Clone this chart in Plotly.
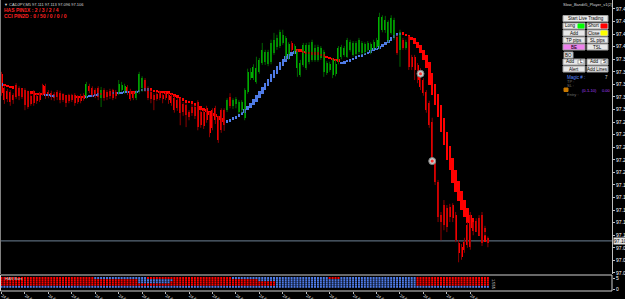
import plotly.graph_objects as go

# ---------------- data ----------------
symbol = "CADJPY,M5"

opens = [97.372, 97.349, 97.345, 97.343, 97.338, 97.354, 97.349, 97.346, 97.346, 97.341, 97.337, 97.343, 97.337, 97.340, 97.354, 97.352, 97.343, 97.341, 97.340, 97.343, 97.341,
         97.338,
         97.335, 97.337, 97.337, 97.338, 97.335, 97.337, 97.338, 97.335, 97.352, 97.349, 97.346, 97.349, 97.333, 97.346, 97.343, 97.345, 97.346, 97.343, 97.341, 97.346, 97.343, 97.351, 97.345, 97.340, 97.333, 97.343, 97.349, 97.362, 97.349, 97.343, 97.338, 97.340, 97.341, 97.338, 97.340, 97.338, 97.337, 97.333, 97.330, 97.330, 97.324, 97.322,
         97.311,
         97.319, 97.319, 97.327, 97.311, 97.311, 97.317, 97.306, 97.314, 97.317, 97.302, 97.314, 97.314, 97.314, 97.335, 97.321, 97.324, 97.311, 97.314, 97.302, 97.343, 97.365, 97.365, 97.359, 97.375, 97.389, 97.391, 97.387, 97.391, 97.405, 97.415, 97.416, 97.421, 97.399, 97.399, 97.421, 97.407, 97.381, 97.370, 97.386, 97.381, 97.391, 97.394,
         97.394,
         97.394, 97.397, 97.375, 97.373, 97.378, 97.370, 97.372, 97.391, 97.399, 97.402, 97.399, 97.410, 97.402, 97.403, 97.407, 97.405, 97.407, 97.410, 97.407, 97.413, 97.415, 97.415, 97.442, 97.442, 97.426, 97.437, 97.429, 97.430, 97.410, 97.426, 97.413, 97.429, 97.399, 97.399, 97.386, 97.375, 97.362, 97.343, 97.325, 97.295, 97.230, 97.200, 97.147, 97.163, 97.158, 97.160, 97.163, 97.147, 97.103, 97.096, 97.104, 97.131, 97.147,
         97.131,
         97.136, 97.142, 97.147, 97.127, 97.111]

highs = [97.375, 97.352, 97.348, 97.346, 97.341, 97.357, 97.352, 97.349, 97.349, 97.345, 97.340, 97.346, 97.340, 97.343, 97.356, 97.356, 97.346, 97.345, 97.343, 97.346, 97.345,
         97.341,
         97.338, 97.340, 97.340, 97.341, 97.338, 97.340, 97.341, 97.359, 97.356, 97.352, 97.349, 97.352, 97.351, 97.349, 97.346, 97.348, 97.348, 97.346, 97.362, 97.359, 97.356, 97.354, 97.348, 97.343, 97.346, 97.375, 97.368, 97.365, 97.352, 97.346, 97.341, 97.343, 97.345, 97.341, 97.343, 97.341, 97.340, 97.337, 97.333, 97.333, 97.327, 97.325,
         97.314,
         97.324, 97.322, 97.330, 97.314, 97.314, 97.321, 97.311, 97.317, 97.321, 97.305, 97.317, 97.317, 97.333, 97.341, 97.333, 97.335, 97.330, 97.330, 97.349, 97.380, 97.381, 97.387, 97.399, 97.397, 97.421, 97.410, 97.410, 97.426, 97.437, 97.434, 97.442, 97.442, 97.432, 97.422, 97.424, 97.419, 97.410, 97.394, 97.421, 97.421, 97.422, 97.426,
         97.418,
         97.418, 97.416, 97.410, 97.392, 97.391, 97.397, 97.394, 97.416, 97.418, 97.416, 97.429, 97.426, 97.424, 97.424, 97.429, 97.424, 97.422, 97.424, 97.422, 97.426, 97.429, 97.469, 97.465, 97.464, 97.457, 97.465, 97.461, 97.434, 97.442, 97.429, 97.426, 97.432, 97.402, 97.402, 97.389, 97.381, 97.365, 97.346, 97.329, 97.302, 97.235, 97.203, 97.152, 97.171, 97.163, 97.165, 97.166, 97.152, 97.107, 97.101, 97.111, 97.136, 97.152,
         97.136,
         97.142, 97.147, 97.152, 97.130, 97.113]

lows = [97.337, 97.324, 97.327, 97.321, 97.324, 97.332, 97.330, 97.332, 97.314, 97.316, 97.321, 97.321, 97.324, 97.327, 97.337, 97.332, 97.333, 97.330, 97.329, 97.330, 97.325,
        97.327,
        97.319, 97.325, 97.327, 97.321, 97.324, 97.325, 97.329, 97.332, 97.341, 97.335, 97.333, 97.330, 97.319, 97.329, 97.330, 97.332, 97.330, 97.332, 97.338, 97.343, 97.340, 97.338, 97.329, 97.330, 97.330, 97.340, 97.343, 97.343, 97.330, 97.325, 97.314, 97.329, 97.330, 97.325, 97.330, 97.324, 97.321, 97.310, 97.313, 97.290, 97.305, 97.287,
        97.298,
        97.305, 97.300, 97.282, 97.286, 97.284, 97.294, 97.271, 97.282, 97.292, 97.262, 97.278, 97.281, 97.311, 97.317, 97.316, 97.317, 97.308, 97.310, 97.298, 97.340, 97.362, 97.362, 97.356, 97.372, 97.386, 97.386, 97.384, 97.387, 97.402, 97.410, 97.413, 97.418, 97.395, 97.394, 97.407, 97.403, 97.367, 97.367, 97.383, 97.378, 97.387, 97.391,
        97.391,
        97.391, 97.394, 97.367, 97.370, 97.375, 97.365, 97.368, 97.387, 97.395, 97.399, 97.397, 97.407, 97.399, 97.400, 97.403, 97.402, 97.403, 97.407, 97.403, 97.410, 97.411, 97.411, 97.438, 97.437, 97.422, 97.434, 97.426, 97.402, 97.383, 97.410, 97.410, 97.378, 97.378, 97.362, 97.357, 97.346, 97.337, 97.310, 97.286, 97.230, 97.195, 97.136, 97.107, 97.123, 97.120, 97.136, 97.136, 97.104, 97.072, 97.076, 97.087, 97.095, 97.092,
        97.115,
        97.120, 97.114, 97.098, 97.114, 97.096]

closes = [97.341, 97.330, 97.332, 97.327, 97.330, 97.335, 97.337, 97.335, 97.322, 97.319, 97.324, 97.325, 97.329, 97.330, 97.341, 97.338, 97.337, 97.335, 97.333, 97.335, 97.330,
          97.330,
          97.325, 97.329, 97.330, 97.325, 97.327, 97.329, 97.332, 97.356, 97.345, 97.338, 97.337, 97.335, 97.346, 97.333, 97.335, 97.337, 97.333, 97.337, 97.356, 97.354, 97.352, 97.341, 97.332, 97.333, 97.343, 97.372, 97.365, 97.346, 97.333, 97.332, 97.330, 97.332, 97.333, 97.332, 97.333, 97.330, 97.325, 97.314, 97.317, 97.310, 97.311, 97.306,
          97.303,
          97.310, 97.305, 97.287, 97.290, 97.289, 97.298, 97.278, 97.286, 97.298, 97.267, 97.282, 97.290, 97.330, 97.321, 97.330, 97.332, 97.327, 97.327, 97.346, 97.375, 97.375, 97.383, 97.381, 97.394, 97.410, 97.407, 97.407, 97.421, 97.426, 97.429, 97.438, 97.434, 97.429, 97.419, 97.410, 97.416, 97.407, 97.389, 97.418, 97.418, 97.418, 97.422,
          97.413,
          97.415, 97.413, 97.407, 97.389, 97.387, 97.394, 97.387, 97.413, 97.415, 97.413, 97.426, 97.422, 97.421, 97.421, 97.426, 97.421, 97.419, 97.421, 97.419, 97.422, 97.426, 97.462, 97.462, 97.457, 97.454, 97.461, 97.457, 97.405, 97.438, 97.413, 97.422, 97.383, 97.383, 97.378, 97.362, 97.351, 97.341, 97.314, 97.290, 97.235, 97.200, 97.144, 97.136, 97.131, 97.128, 97.144, 97.142, 97.107, 97.087, 97.080, 97.092, 97.099, 97.096,
          97.122,
          97.127, 97.119, 97.103, 97.120, 97.106]

# Heiken Ashi Smoothed overlay (open / close)
ha_open = [97.352, 97.356, 97.354, 97.352, 97.351, 97.351, 97.349, 97.348, 97.346, 97.345, 97.343, 97.343, 97.341, 97.341, 97.341, 97.337, 97.337, 97.335, 97.335, 97.340, 97.340,
           97.339,
           97.338, 97.338, 97.338, 97.337, 97.337, 97.337, 97.337, 97.333, 97.335, 97.335, 97.337, 97.338, 97.341, 97.341, 97.341, 97.341, 97.340, 97.341, 97.340, 97.340, 97.341, 97.341, 97.343, 97.343, 97.341, 97.343, 97.345, 97.346, 97.346, 97.348, 97.346, 97.346, 97.345, 97.345, 97.343, 97.343, 97.341, 97.340, 97.338, 97.335, 97.333, 97.330,
           97.329,
           97.329, 97.325, 97.324, 97.321, 97.317, 97.316, 97.313, 97.310, 97.308, 97.305, 97.302, 97.298, 97.294, 97.295, 97.298, 97.300, 97.303, 97.306, 97.310, 97.314, 97.317, 97.322, 97.327, 97.333, 97.340, 97.346, 97.352, 97.359, 97.365, 97.372, 97.378, 97.384, 97.391, 97.395, 97.400, 97.403, 97.410, 97.410, 97.408, 97.407, 97.407, 97.405,
           97.405,
           97.405, 97.403, 97.402, 97.400, 97.399, 97.397, 97.395, 97.394, 97.387, 97.389, 97.391, 97.392, 97.394, 97.395, 97.399, 97.400, 97.402, 97.403, 97.405, 97.408, 97.410, 97.411, 97.415, 97.418, 97.421, 97.424, 97.429, 97.432, 97.434, 97.437, 97.435, 97.434, 97.430, 97.429, 97.422, 97.418, 97.410, 97.402, 97.391, 97.373, 97.356, 97.340, 97.322, 97.302, 97.279, 97.257, 97.238, 97.219, 97.201, 97.185, 97.171, 97.158, 97.147,
           97.142,
           97.138, 97.130, 97.122, 97.115, 97.111]

ha_close = [97.357, 97.352, 97.351, 97.349, 97.348, 97.348, 97.346, 97.345, 97.343, 97.341, 97.340, 97.340, 97.338, 97.338, 97.338, 97.340, 97.340, 97.338, 97.338, 97.337, 97.337,
            97.336,
            97.335, 97.335, 97.335, 97.333, 97.333, 97.333, 97.333, 97.337, 97.338, 97.338, 97.340, 97.341, 97.338, 97.338, 97.338, 97.338, 97.343, 97.338, 97.343, 97.343, 97.345, 97.345, 97.340, 97.340, 97.345, 97.346, 97.348, 97.349, 97.349, 97.345, 97.343, 97.343, 97.341, 97.341, 97.340, 97.340, 97.338, 97.335, 97.333, 97.330, 97.329, 97.325,
            97.325,
            97.324, 97.321, 97.317, 97.314, 97.313, 97.311, 97.306, 97.305, 97.303, 97.298, 97.295, 97.294, 97.298, 97.300, 97.303, 97.305, 97.308, 97.311, 97.316, 97.321, 97.325, 97.332, 97.338, 97.345, 97.351, 97.357, 97.364, 97.372, 97.378, 97.384, 97.391, 97.395, 97.400, 97.403, 97.407, 97.408, 97.407, 97.407, 97.405, 97.403, 97.403, 97.402,
            97.402,
            97.402, 97.400, 97.399, 97.397, 97.395, 97.394, 97.392, 97.391, 97.391, 97.392, 97.394, 97.395, 97.397, 97.400, 97.402, 97.403, 97.405, 97.407, 97.410, 97.413, 97.413, 97.416, 97.419, 97.422, 97.426, 97.430, 97.434, 97.437, 97.437, 97.434, 97.432, 97.429, 97.426, 97.419, 97.413, 97.405, 97.394, 97.381, 97.354, 97.338, 97.322, 97.303, 97.279, 97.259, 97.235, 97.219, 97.198, 97.184, 97.169, 97.155, 97.144, 97.134, 97.127,
            97.124,
            97.120, 97.114, 97.107, 97.104, 97.103]

# time-axis labels (one every 8 bars)
time_tick_bars = [0, 8, 16, 24, 32, 40, 48, 56, 64, 72, 80, 88, 96, 104, 112, 120, 128, 136, 144, 152, 160]
time_tick_labels = ["24 Apr 2019", "24 Apr 06:45", "24 Apr 07:25", "24 Apr 08:05", "24 Apr 08:45",
                    "24 Apr 09:25", "24 Apr 10:05", "24 Apr 10:45", "24 Apr 11:25", "24 Apr 12:05",
                    "24 Apr 12:45", "24 Apr 13:25", "24 Apr 14:05", "24 Apr 14:45", "24 Apr 15:25",
                    "24 Apr 16:05", "24 Apr 16:45", "24 Apr 17:25", "24 Apr 18:05", "24 Apr 18:45",
                    "24 Apr 19:25"]

price_ticks = [97.475, 97.455, 97.435, 97.415, 97.395, 97.375, 97.355, 97.335, 97.315, 97.295, 97.275,
               97.255, 97.235, 97.215, 97.195, 97.175, 97.155, 97.135, 97.115, 97.095, 97.075, 97.055]
price_tick_labels = ["97.475", "97.455", "97.435", "97.415", "97.395", "97.375", "97.355", "97.335",
                     "97.315", "97.295", "97.275", "97.255", "97.235", "97.215", "97.195", "97.175",
                     "97.155", "97.135", "97.115", "97.095", "97.075", "97.055"]

signal_bars = [143, 147]
signal_prices = [97.372, 97.233]

# colour-state strip in the sub-window: runs of (state, number of bars), top row = 5
strip_runs = {
    5: [("dn", 32), ("up", 18), ("dn", 29), ("up", 33), ("dn", 4), ("up", 26), ("dn", 25)],
    4: [("dn", 47), ("up", 12), ("dn", 29), ("up", 54), ("dn", 25)],
    3: [("dn", 47), ("up", 11), ("dn", 36), ("up", 48), ("dn", 25)],
    2: [("dn", 94), ("up", 48), ("dn", 25)],
    1: [("up", 167)],
}
sub_ticks = [0, 5]
sub_tick_labels = ["0", "5"]

# ---------------- figure ----------------
W, H = 625, 299
PLOT_R = 612           # right edge of chart area (px)
MAIN_B = 274           # bottom of main window (px)
SUB_T, SUB_B = 275, 291


def px(x):
    return x / W


def py(y):
    return 1 - y / H


n = len(closes)
bars = list(range(n))
BAR_PX = 2.93
x_lo = -1.5 / BAR_PX
XR = [x_lo, x_lo + PLOT_R / BAR_PX]

BULL, BEAR = "#00b400", "#ff0000"
BULL_W, BEAR_W = "#006400", "#8c0000"
HA_UP, HA_DN = "#4f7be6", "#ff0000"

fig = go.Figure()

# wicks
for is_bull, col in ((True, BULL_W), (False, BEAR_W)):
    xs, ys = [], []
    for i in bars:
        if (closes[i] >= opens[i]) == is_bull:
            xs += [i, i, None]
            ys += [lows[i], highs[i], None]
    fig.add_trace(go.Scatter(x=xs, y=ys, mode="lines", line=dict(color=col, width=1),
                             hoverinfo="skip", xaxis="x", yaxis="y"))

# bodies
for is_bull, col in ((True, BULL), (False, BEAR)):
    idx = [i for i in bars if (closes[i] >= opens[i]) == is_bull]
    fig.add_trace(go.Bar(x=idx, base=[opens[i] for i in idx],
                         y=[closes[i] - opens[i] for i in idx], width=0.68,
                         marker=dict(color=col, line=dict(width=0)), xaxis="x", yaxis="y"))

# Heiken Ashi smoothed bars
for is_up, col in ((True, HA_UP), (False, HA_DN)):
    idx = [i for i in bars if (ha_close[i] >= ha_open[i]) == is_up]
    fig.add_trace(go.Bar(x=idx, base=[ha_open[i] for i in idx],
                         y=[ha_close[i] - ha_open[i] for i in idx], width=0.85,
                         marker=dict(color=col, line=dict(width=0)), xaxis="x", yaxis="y"))

# signal circles
fig.add_trace(go.Scatter(x=signal_bars, y=signal_prices, mode="markers",
                         marker=dict(symbol="circle", size=7, color="#c8c8c8",
                                     line=dict(color="#808080", width=1)), xaxis="x", yaxis="y"))
fig.add_trace(go.Scatter(x=signal_bars, y=signal_prices, mode="markers",
                         marker=dict(symbol="circle", size=3, color="#ff3030"), xaxis="x", yaxis="y"))

# sub-window strip
for state, col in (("up", HA_UP), ("dn", HA_DN)):
    xs, ys = [], []
    for row, runs in strip_runs.items():
        pos = 0
        for st, length in runs:
            for k in range(pos, pos + length):
                if st == state:
                    xs.append(k)
                    ys.append(row)
            pos += length
    fig.add_trace(go.Scatter(x=xs, y=ys, mode="markers",
                             marker=dict(symbol="square", size=2, color=col, line=dict(width=0)),
                             xaxis="x2", yaxis="y2", hoverinfo="skip"))

FONT = "Liberation Sans"
main_dom = [py(MAIN_B), 1]
sub_dom = [py(SUB_B), py(SUB_T)]
# sub-window scale: 0 at y=289px, 5 at y=278px
u = (289 - 278) / 5.0
sub_range = [-(SUB_B - 289) / u, 5 + (278 - SUB_T) / u]

fig.update_layout(
    width=W, height=H, margin=dict(l=0, r=0, t=0, b=0),
    paper_bgcolor="black", plot_bgcolor="black", showlegend=False,
    barmode="overlay", bargap=0,
    font=dict(family=FONT, color="white"),
    xaxis=dict(domain=[0, px(PLOT_R)], range=XR, anchor="y", showgrid=False, zeroline=False,
               showticklabels=False, ticks="", fixedrange=True),
    yaxis=dict(domain=main_dom, range=[97.4893 - 0.0015911 * MAIN_B, 97.4893], side="right",
               anchor="x", showgrid=False, zeroline=False, tickvals=price_ticks,
               ticktext=price_tick_labels, ticks="outside", ticklen=2, tickcolor="#c0c0c0",
               tickfont=dict(size=5, color="white", family=FONT), showline=True,
               linecolor="#c0c0c0", linewidth=1, automargin=False, ticklabelstandoff=0),
    xaxis2=dict(domain=[0, px(PLOT_R)], range=XR, anchor="y2", showgrid=False, zeroline=False,
                tickvals=time_tick_bars, ticktext=time_tick_labels, ticks="outside", ticklen=2,
                tickcolor="#c0c0c0", tickfont=dict(size=4, color="white", family=FONT),
                ticklabelposition="outside right", automargin=False, ticklabelstandoff=0),
    yaxis2=dict(domain=sub_dom, range=sub_range, anchor="x2", side="right", showgrid=False,
                zeroline=False, tickvals=sub_ticks, ticktext=sub_tick_labels, ticks="outside",
                ticklen=2, tickcolor="#c0c0c0", tickfont=dict(size=5, color="white", family=FONT),
                automargin=False, ticklabelstandoff=0),
)

shapes = []
annots = []


def text(x, y, s, size=5, color="white", anchor="left", bold=False, angle=0):
    annots.append(dict(x=px(x), y=py(y), xref="paper", yref="paper", text=("<b>%s</b>" % s) if bold else s,
                       showarrow=False, xanchor=anchor, yanchor="middle", textangle=angle,
                       font=dict(size=size, color=color, family=FONT)))


def rect(x0, y0, x1, y1, fill, line="#a0a0a0"):
    shapes.append(dict(type="rect", xref="paper", yref="paper", x0=px(x0), x1=px(x1),
                       y0=py(y1), y1=py(y0), fillcolor=fill, line=dict(color=line, width=1), layer="above"))


# frame
shapes.append(dict(type="line", xref="paper", yref="paper", x0=px(0.5), x1=px(0.5), y0=py(MAIN_B), y1=1,
                   line=dict(color="#808080", width=1)))
shapes.append(dict(type="rect", xref="paper", yref="paper", x0=px(0.5), x1=px(PLOT_R), y0=py(SUB_B),
                   y1=py(SUB_T), line=dict(color="#d0d0d0", width=1)))
# bid line
shapes.append(dict(type="line", xref="paper", yref="y", x0=0, x1=px(PLOT_R), y0=closes[-1], y1=closes[-1],
                   line=dict(color="#6f8296", width=1), layer="below"))
annots.append(dict(x=px(PLOT_R + 1), y=closes[-1], xref="paper", yref="y", text="%.3f" % closes[-1],
                   showarrow=False, xanchor="left", yanchor="middle", bgcolor="#e0e0e0",
                   borderpad=0, font=dict(size=5, color="black", family=FONT)))

# header texts
text(2, 4.5, "▼ %s %.3f %.3f %.3f %.3f" % (symbol, opens[-1], highs[-1], lows[-1], closes[-1]),
     size=4, color="#d8d8d8")
text(2, 10.5, "HAS PIN1X : 2 / 3 / 2 / 4", size=5, color="#ff2020", bold=True)
text(2, 16, "CCI PIN2D : 0 / 50 / 0 / 0 / 0", size=5, color="#ff2020", bold=True)
text(3, 278.5, "HAS Bars", size=4, color="#d8d8d8")
text(494, 284, "1.555", size=4, color="#d8d8d8", anchor="center", angle=90)

# trading panel
text(588, 5, "Slow_Bandit5_Player_v1(2)", size=4, color="#d8d8d8", anchor="center")
BTN = "#e8e8e8"
rect(563, 15.5, 608, 21.5, BTN)
text(585.5, 18.5, "Start Live Trading", size=4.5, color="black", anchor="center")
for (x0, x1, label, sq) in ((563, 585, "Long", "#00ff00"), (587, 608, "Short", "#ff0000")):
    rect(x0, 23, x1, 29, BTN)
    rect(x1 - 7, 24, x1 - 1, 28, sq, line=sq)
    text((x0 + x1 - 7) / 2, 26, label, size=4.5, color="black", anchor="center")
rect(563, 30, 585, 36, BTN)
text(574, 33, "Add", size=4.5, color="black", anchor="center")
rect(587, 30, 608, 36, BTN)
rect(601, 31, 607, 35, "#ffff00", line="#ffff00")
text(594, 33, "Close", size=4.5, color="black", anchor="center")
rect(563, 37, 585, 43, BTN)
text(574, 40, "TP pips", size=4.5, color="black", anchor="center")
rect(587, 37, 608, 43, BTN)
text(597.5, 40, "SL pips", size=4.5, color="black", anchor="center")
rect(563, 44, 585, 50, "#ee82ee")
text(574, 47, "BE", size=4.5, color="black", anchor="center")
rect(587, 44, 608, 50, BTN)
text(597.5, 47, "TSL", size=4.5, color="black", anchor="center")
rect(564, 52, 573, 58, BTN)
text(568.5, 55, "BO", size=4.5, color="black", anchor="center")
for (x0, x1, side) in ((563, 585, "L"), (587, 608, "S")):
    rect(x0, 59, x1, 65, BTN)
    rect(x1 - 7, 60, x1 - 1, 64, "#ffffff")
    text((x0 + x1 - 7) / 2, 62, "Add", size=4.5, color="black", anchor="center")
    text(x1 - 4, 62, side, size=4.5, color="black", anchor="center")
rect(563, 66, 585, 72, BTN)
text(574, 69, "Alert", size=4.5, color="black", anchor="center")
rect(587, 66, 608, 72, BTN)
text(597.5, 69, "Add Lines", size=4.5, color="black", anchor="center")
text(565, 77, "Magic # :", size=4.5, color="#5a8cff")
text(606, 77, "7", size=4.5, color="#d8d8d8", anchor="center")
text(565, 81, "TP :", size=4, color="#707070")
text(565, 85, "SL :", size=4, color="#707070")
rect(564, 88, 568, 91.5, "#c87800", line="#c87800")
text(580, 90, "(0-1-10)", size=4, color="#b040ff")
text(600, 90, "0.00", size=4, color="#b040ff")
text(565, 94.5, "Entry :", size=4, color="#707070")

fig.update_layout(shapes=shapes, annotations=annots)
fig.write_html("out.html")
